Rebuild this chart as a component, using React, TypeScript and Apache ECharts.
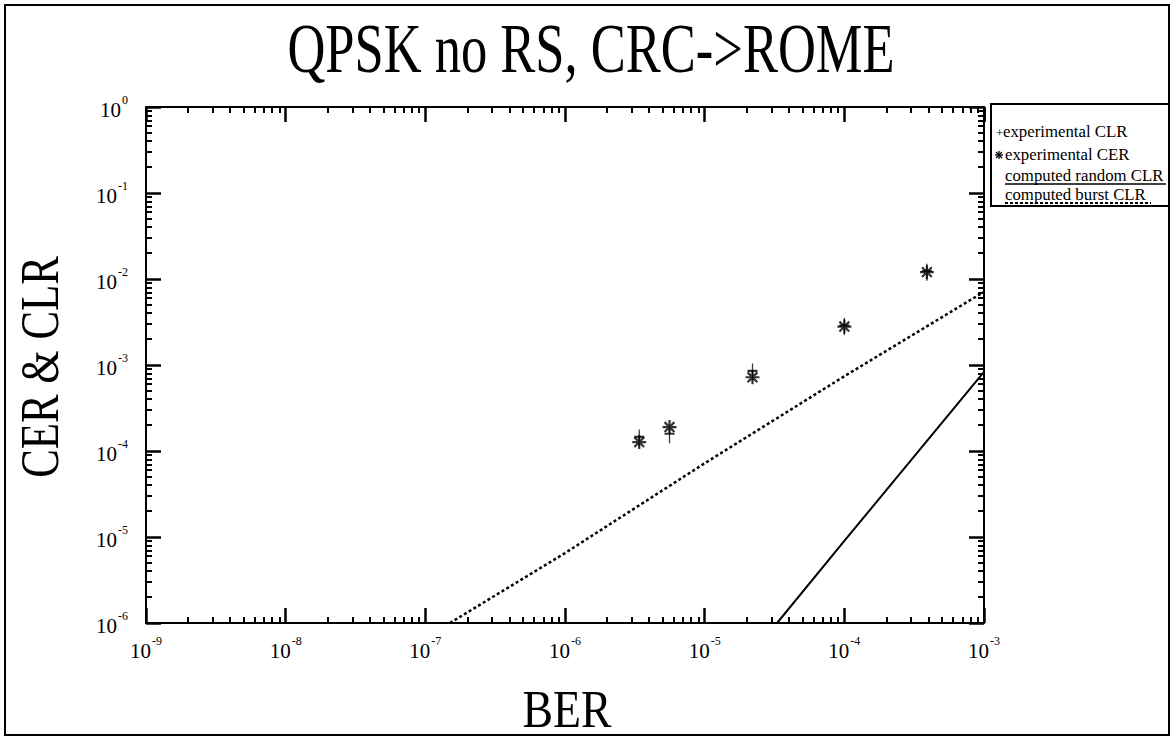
import React, { useEffect, useRef } from 'react';
import * as echarts from 'echarts';

const TITLE = 'QPSK no RS, CRC->ROME';
const X_NAME = 'BER';
const Y_NAME = 'CER & CLR';
const X_MIN = 1e-9;
const X_MAX = 1e-3;
const Y_MIN = 1e-6;
const Y_MAX = 1;

// experimental points
const expBER = [3.4e-6, 5.6e-6, 2.2e-5, 1.0e-4, 3.9e-4];
const expCLR = [1.42e-4, 1.54e-4, 8.3e-4, 2.8e-3, 1.2e-2];
const expCER = [1.27e-4, 1.9e-4, 7.2e-4, 2.8e-3, 1.2e-2];

// computed curves
const randomBER = [3.3e-5, 1e-4, 1e-3];
const randomCLR = [1e-6, 9e-6, 8.3e-4];
const burstBER = [1.5e-7, 1e-6, 1e-5, 1e-4, 1e-3];
const burstCLR = [1e-6, 6.5e-6, 7.2e-5, 7.4e-4, 7.1e-3];

const LEGEND_LABELS = ['experimental CLR', 'experimental CER', 'computed random CLR', 'computed burst CLR'];

const SERIF = "'Liberation Serif', 'Times New Roman', serif";

// minor tick values (2..9 x each decade)
const minorValues = (lo: number, hi: number) => {
  const out: number[] = [];
  for (let e = lo; e < hi; e++) {
    for (let m = 2; m <= 9; m++) out.push(m * Math.pow(10, e));
  }
  return out;
};
const xMinor = minorValues(-9, -3);
const yMinor = minorValues(-6, 0);

const PLUS_PATH = 'path://M5,0L5,16M0,7L10,7';
const STAR_PATH = 'path://M0,-10L0,10M-10,0L10,0M-7,-7L7,7M-7,7L7,-7';

const labelFormatter = (v: number) => {
  const e = Math.round(Math.log10(v));
  return `{b|10}{s|${e === 0 ? '0' : e}}`;
};

const richLabel = {
  b: { fontSize: 21, fontFamily: SERIF, color: '#000', lineHeight: 26, verticalAlign: 'bottom' },
  s: { fontSize: 12, fontFamily: SERIF, color: '#000', lineHeight: 26, verticalAlign: 'top', padding: [0, 0, 0, 1] },
};

const majorAxis = (min: number, max: number, position: string, labels: boolean, margin: number) => ({
  type: 'log',
  logBase: 10,
  min,
  max,
  position,
  axisLine: { show: true, lineStyle: { color: '#000', width: 2 } },
  axisTick: { show: true, inside: true, length: 15, lineStyle: { color: '#000', width: 2.5 } },
  splitLine: { show: false },
  axisLabel: labels ? { show: true, formatter: labelFormatter, rich: richLabel, margin } : { show: false },
});

const minorAxis = (min: number, max: number, position: string, values: number[]) => ({
  type: 'log',
  logBase: 10,
  min,
  max,
  position,
  axisLine: { show: false },
  axisLabel: { show: false },
  splitLine: { show: false },
  axisTick: { show: true, inside: true, length: 6, customValues: values, lineStyle: { color: '#000', width: 2 } },
});

const tickLine = (x1: number, y1: number, x2: number, y2: number) => ({
  type: 'line',
  shape: { x1, y1, x2, y2 },
  style: { stroke: '#000', lineWidth: 1.3 },
});

const legendText = (x: number, y: number, text: string) => ({
  type: 'text',
  x,
  y,
  style: { text, fontSize: 16.8, fontFamily: SERIF, fill: '#000', textVerticalAlign: 'middle' },
});

const option: any = {
  animation: false,
  backgroundColor: '#fff',
  grid: { left: 146, right: 189, top: 107, bottom: 117 },
  xAxis: [
    majorAxis(X_MIN, X_MAX, 'bottom', true, 12),
    majorAxis(X_MIN, X_MAX, 'top', false, 0),
    minorAxis(X_MIN, X_MAX, 'bottom', xMinor),
    minorAxis(X_MIN, X_MAX, 'top', xMinor),
  ],
  yAxis: [
    majorAxis(Y_MIN, Y_MAX, 'left', true, 18),
    majorAxis(Y_MIN, Y_MAX, 'right', false, 0),
    minorAxis(Y_MIN, Y_MAX, 'left', yMinor),
    minorAxis(Y_MIN, Y_MAX, 'right', yMinor),
  ],
  series: [
    {
      type: 'line',
      name: LEGEND_LABELS[3],
      data: burstBER.map((x, i) => [x, burstCLR[i]]),
      showSymbol: false,
      symbol: 'none',
      lineStyle: { color: '#000', width: 2.5, type: [3, 2.5] },
    },
    {
      type: 'line',
      name: LEGEND_LABELS[2],
      data: randomBER.map((x, i) => [x, randomCLR[i]]),
      showSymbol: false,
      symbol: 'none',
      lineStyle: { color: '#000', width: 2 },
    },
    {
      type: 'scatter',
      name: LEGEND_LABELS[0],
      data: expBER.map((x, i) => [x, expCLR[i]]),
      symbol: PLUS_PATH,
      symbolSize: [10, 17],
      itemStyle: { color: 'rgba(0,0,0,0)', borderColor: '#000', borderWidth: 1.6 },
    },
    {
      type: 'scatter',
      name: LEGEND_LABELS[1],
      data: expBER.map((x, i) => [x, expCER[i]]),
      symbol: STAR_PATH,
      symbolSize: 14,
      itemStyle: { color: 'rgba(0,0,0,0)', borderColor: '#000', borderWidth: 2.2 },
    },
  ],
  graphic: [
    // outer frame
    { type: 'rect', shape: { x: 5, y: 5, width: 1164, height: 730 }, style: { fill: 'none', stroke: '#000', lineWidth: 2 }, silent: true },
    // title
    {
      type: 'text', x: 591, y: 48, scaleX: 0.75,
      style: { text: TITLE, fontSize: 70, fontFamily: SERIF, fill: '#000', textAlign: 'center', textVerticalAlign: 'middle' },
    },
    // axis names
    {
      type: 'text', x: 567, y: 709, scaleX: 0.88,
      style: { text: X_NAME, fontSize: 52, fontFamily: SERIF, fill: '#000', textAlign: 'center', textVerticalAlign: 'middle' },
    },
    {
      type: 'text', x: 40, y: 367, rotation: Math.PI / 2, scaleX: 0.78,
      style: { text: Y_NAME, fontSize: 55, fontFamily: SERIF, fill: '#000', textAlign: 'center', textVerticalAlign: 'middle' },
    },
    // legend box
    { type: 'rect', shape: { x: 991, y: 104, width: 178, height: 102 }, style: { fill: '#fff', stroke: '#000', lineWidth: 2 } },
    { type: 'text', x: 996, y: 132, style: { text: '+', fontSize: 13, fontFamily: SERIF, fill: '#000', textVerticalAlign: 'middle' } },
    legendText(1003, 131, LEGEND_LABELS[0]),
    {
      type: 'group', x: 999, y: 155,
      children: [
        tickLine(0, -4, 0, 4), tickLine(-4, 0, 4, 0), tickLine(-3, -3, 3, 3), tickLine(-3, 3, 3, -3),
      ],
    },
    legendText(1005, 154, LEGEND_LABELS[1]),
    legendText(1005, 175, LEGEND_LABELS[2]),
    { type: 'line', shape: { x1: 1005, y1: 184, x2: 1166, y2: 184 }, style: { stroke: '#000', lineWidth: 1.5 } },
    legendText(1005, 194, LEGEND_LABELS[3]),
    { type: 'line', shape: { x1: 1005, y1: 203, x2: 1151, y2: 203 }, style: { stroke: '#000', lineWidth: 2, lineDash: [3, 2] } },
  ],
};

export default function App() {
  const ref = useRef<HTMLDivElement>(null);
  useEffect(() => {
    const chart = echarts.init(ref.current!, null, { renderer: 'svg' });
    chart.setOption(option);
    return () => chart.dispose();
  }, []);
  return (
    <div
      ref={ref}
      style={{ position: 'absolute', left: 0, top: 0, width: 1173, height: 740, background: '#fff' }}
    />
  );
}
